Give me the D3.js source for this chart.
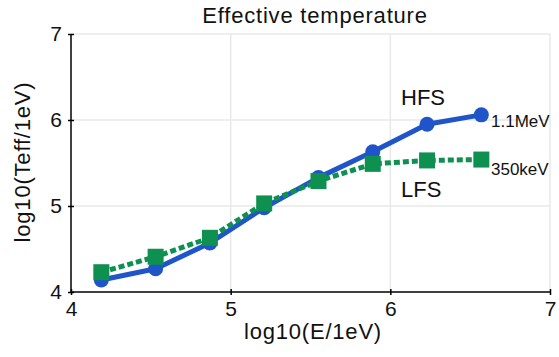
<!DOCTYPE html>
<html>
<head>
<meta charset="utf-8">
<script src="https://cdn.jsdelivr.net/npm/d3@7"></script>
<style>
  body { margin: 0; background: #fff; }
  text { font-family: "Liberation Sans", Arial, sans-serif; fill: #111; }
</style>
</head>
<body>
<div></div>
<script>
var width = 559, height = 357;

// log10 of energy (eV)
var logE = [4.19, 4.53, 4.87, 5.21, 5.55, 5.89, 6.23, 6.57];
// log10 Teff, high field side (1.1 MeV)
var hfs = [4.14, 4.27, 4.57, 4.98, 5.33, 5.63, 5.95, 6.06];
// log10 Teff, low field side (350 keV)
var lfs = [4.23, 4.41, 4.63, 5.03, 5.29, 5.49, 5.53, 5.54];
var ticks = [4, 5, 6, 7];

var margin = {top: 34, right: 9, bottom: 65, left: 71};

var x = d3.scaleLinear().domain([4, 7]).range([margin.left, width - margin.right]);
var y = d3.scaleLinear().domain([4, 7]).range([height - margin.bottom, margin.top]);

var svg = d3.select("div").append("svg")
    .attr("width", width)
    .attr("height", height);

// grid
svg.append("g").selectAll("line.gx")
    .data(ticks.slice(1))
  .enter().append("line")
    .attr("x1", function(d) { return x(d); })
    .attr("x2", function(d) { return x(d); })
    .attr("y1", y(7)).attr("y2", y(4))
    .style("stroke", "#e8e8e8").style("stroke-width", 1.5);

svg.append("g").selectAll("line.gy")
    .data(ticks.slice(1))
  .enter().append("line")
    .attr("x1", x(4)).attr("x2", x(7))
    .attr("y1", function(d) { return y(d); })
    .attr("y2", function(d) { return y(d); })
    .style("stroke", "#e8e8e8").style("stroke-width", 1.5);

// axes
var xAxis = svg.append("g")
    .attr("transform", "translate(0," + y(4) + ")")
    .call(d3.axisBottom(x).tickValues(ticks).tickSize(4).tickFormat(d3.format("d")));
xAxis.select(".domain").attr("d", "M" + x(4) + ",0H" + x(7)).style("stroke-width", 1.5);
xAxis.selectAll(".tick line").attr("y1", -3).attr("y2", 3).style("stroke-width", 1.5);
xAxis.selectAll(".tick text").attr("y", 9).style("font-size", "21px")
    .style("font-family", "Liberation Sans, Arial, sans-serif").style("fill", "#111");

var yAxis = svg.append("g")
    .attr("transform", "translate(" + x(4) + ",0)")
    .call(d3.axisLeft(y).tickValues(ticks).tickSize(4).tickFormat(d3.format("d")));
yAxis.select(".domain").attr("d", "M0," + y(4) + "V" + y(7)).style("stroke-width", 1.5);
yAxis.selectAll(".tick line").attr("x1", -3).attr("x2", 3).style("stroke-width", 1.5);
yAxis.selectAll(".tick text").attr("x", -9).style("font-size", "21px")
    .style("font-family", "Liberation Sans, Arial, sans-serif").style("fill", "#111");

// lines
var line = d3.line()
    .x(function(d) { return x(d[0]); })
    .y(function(d) { return y(d[1]); });

var hfsData = d3.zip(logE, hfs);
var lfsData = d3.zip(logE, lfs);

svg.append("path")
    .datum(hfsData)
    .attr("d", line)
    .style("fill", "none")
    .style("stroke", "#1f55c8")
    .style("stroke-width", 5)
    .style("stroke-linejoin", "round");

svg.selectAll("circle.hfs")
    .data(hfsData)
  .enter().append("circle")
    .attr("cx", function(d) { return x(d[0]); })
    .attr("cy", function(d) { return y(d[1]); })
    .attr("r", 7.5)
    .style("fill", "#1f55c8");

svg.append("path")
    .datum(lfsData)
    .attr("d", line)
    .style("fill", "none")
    .style("stroke", "#0e9150")
    .style("stroke-width", 5)
    .style("stroke-dasharray", "6,3");

svg.selectAll("rect.lfs")
    .data(lfsData)
  .enter().append("rect")
    .attr("x", function(d) { return x(d[0]) - 8; })
    .attr("y", function(d) { return y(d[1]) - 8; })
    .attr("width", 16)
    .attr("height", 16)
    .style("fill", "#0e9150");

// labels
svg.append("text")
    .attr("x", 315).attr("y", 23)
    .attr("text-anchor", "middle")
    .style("font-size", "22px")
    .style("letter-spacing", "0.8px")
    .text("Effective temperature");

svg.append("text")
    .attr("x", 313).attr("y", 339)
    .attr("text-anchor", "middle")
    .style("font-size", "22px")
    .style("letter-spacing", "0.8px")
    .text("log10(E/1eV)");

svg.append("text")
    .attr("transform", "translate(30,162) rotate(-90)")
    .attr("text-anchor", "middle")
    .style("font-size", "22px")
    .style("letter-spacing", "0.8px")
    .text("log10(Teff/1eV)");

svg.append("text").attr("x", 401).attr("y", 105).style("font-size", "22px").text("HFS");
svg.append("text").attr("x", 401).attr("y", 197).style("font-size", "22px").text("LFS");
svg.append("text").attr("x", 491).attr("y", 127).style("font-size", "17px").text("1.1MeV");
svg.append("text").attr("x", 491).attr("y", 175).style("font-size", "17px").text("350keV");
</script>
</body>
</html>
